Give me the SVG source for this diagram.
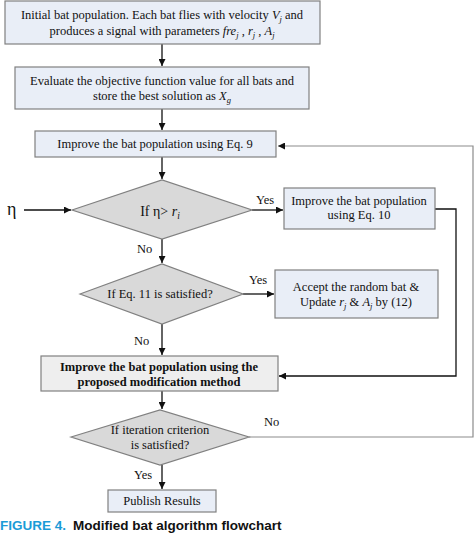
<svg xmlns="http://www.w3.org/2000/svg" width="474" height="535" viewBox="0 0 474 535">
<defs>
<style>
.box{fill:#e9eef7;stroke:#808080;stroke-width:1.2}
.gbox{fill:#eeeeee;stroke:#808080;stroke-width:1.2}
.dia{fill:#d9d9d9;stroke:#808080;stroke-width:1.2}
.t{font-family:"Liberation Serif",serif;font-size:12.5px;fill:#111;text-anchor:middle}
.b{font-weight:bold}
.lbl{font-family:"Liberation Serif",serif;font-size:12.5px;fill:#111}
.ln{fill:none;stroke:#111;stroke-width:1.3}
.gln{fill:none;stroke:#8c8c8c;stroke-width:1.2}
.i{font-style:italic}
.s{font-size:8.5px;font-style:italic}
</style>
<marker id="ah" viewBox="0 0 10 10" refX="10" refY="5" markerWidth="7" markerHeight="7" markerUnits="userSpaceOnUse" orient="auto">
<path d="M0,0 L10,5 L0,10 z" fill="#111"/>
</marker>
</defs>
<g id="connectors">
<path class="ln" d="M162,44 V66" marker-end="url(#ah)"/>
<path class="ln" d="M162,109 V130" marker-end="url(#ah)"/>
<path class="ln" d="M162,157 V179" marker-end="url(#ah)"/>
<path class="ln" d="M24,210 H71" marker-end="url(#ah)"/>
<path class="ln" d="M252,210 H283" marker-end="url(#ah)"/>
<path class="ln" d="M162,239 V263" marker-end="url(#ah)"/>
<path class="ln" d="M243,294 H274" marker-end="url(#ah)"/>
<path class="ln" d="M162,324 V355" marker-end="url(#ah)"/>
<path class="ln" d="M435,209 H456 V376 H279" marker-end="url(#ah)"/>
<path class="ln" d="M162,391 V409" marker-end="url(#ah)"/>
<path class="ln" d="M162,465 V489" marker-end="url(#ah)"/>
<path class="gln" d="M249,437 H473 V146 H278" marker-end="url(#ah)"/>
<text class="lbl" x="7" y="215" style="font-size:18px">η</text>
<text class="lbl" x="256" y="204">Yes</text>
<text class="lbl" x="137" y="253">No</text>
<text class="lbl" x="249" y="284">Yes</text>
<text class="lbl" x="134" y="345">No</text>
<text class="lbl" x="264" y="426">No</text>
<text class="lbl" x="134" y="479">Yes</text>
</g>
<g id="n1">
<rect class="box" x="5" y="1" width="315" height="43"/>
<text class="t" x="162" y="19">Initial bat population. Each bat flies with velocity <tspan class="i">V</tspan><tspan class="s" dy="2.5">j</tspan><tspan dy="-2.5"> and</tspan></text>
<text class="t" x="162" y="35">produces a signal with parameters <tspan class="i">fre</tspan><tspan class="s" dy="2.5">j</tspan><tspan dy="-2.5"> , </tspan><tspan class="i">r</tspan><tspan class="s" dy="2.5">j</tspan><tspan dy="-2.5"> , </tspan><tspan class="i">A</tspan><tspan class="s" dy="2.5">j</tspan></text>
</g>
<g id="n2">
<rect class="box" x="15" y="67" width="294" height="42"/>
<text class="t" x="162" y="85">Evaluate the objective function value for all bats and</text>
<text class="t" x="162" y="100">store the best solution as <tspan class="i">X</tspan><tspan class="s" dy="2.5">g</tspan></text>
</g>
<g id="n3">
<rect class="box" x="35" y="131" width="241" height="26"/>
<text class="t" x="155" y="148">Improve the bat population using Eq. 9</text>
</g>
<g id="n4">
<path class="dia" d="M72,210 L162,180 L252,210 L162,239 Z"/>
<text class="t" x="160" y="216" style="font-size:14px">If η&gt; <tspan class="i">r</tspan><tspan class="s" dy="3" style="font-size:9.5px">i</tspan></text>
</g>
<g id="n5">
<rect class="box" x="284" y="188" width="151" height="41"/>
<text class="t" x="359" y="205">Improve the bat population</text>
<text class="t" x="359" y="219">using Eq. 10</text>
</g>
<g id="n6">
<path class="dia" d="M80,294 L162,264 L243,294 L162,324 Z"/>
<text class="t" x="160" y="298">If Eq. 11 is satisfied?</text>
</g>
<g id="n7">
<rect class="box" x="275" y="270" width="163" height="48"/>
<text class="t" x="356" y="291">Accept the random bat &amp;</text>
<text class="t" x="356" y="306">Update <tspan class="i">r</tspan><tspan class="s" dy="2.5">j</tspan><tspan dy="-2.5"> &amp; </tspan><tspan class="i">A</tspan><tspan class="s" dy="2.5">j</tspan><tspan dy="-2.5"> by (12)</tspan></text>
</g>
<g id="n8">
<rect class="gbox" x="41" y="356" width="237" height="35"/>
<text class="t b" x="159" y="371">Improve the bat population using the</text>
<text class="t b" x="159" y="386">proposed modification method</text>
</g>
<g id="n9">
<path class="dia" d="M71,437 L160,410 L249,437 L160,465 Z"/>
<text class="t" x="160" y="434">If iteration criterion</text>
<text class="t" x="160" y="449">is satisfied?</text>
</g>
<g id="n10">
<rect class="box" x="108" y="490" width="108" height="22"/>
<text class="t" x="162" y="505">Publish Results</text>
</g>
<text x="0" y="530" style="font-family:'Liberation Sans',sans-serif;font-size:13.5px;font-weight:bold"><tspan fill="#1a9bd7">FIGURE 4.</tspan><tspan fill="#111" x="73">Modified bat algorithm flowchart</tspan></text>
</svg>
